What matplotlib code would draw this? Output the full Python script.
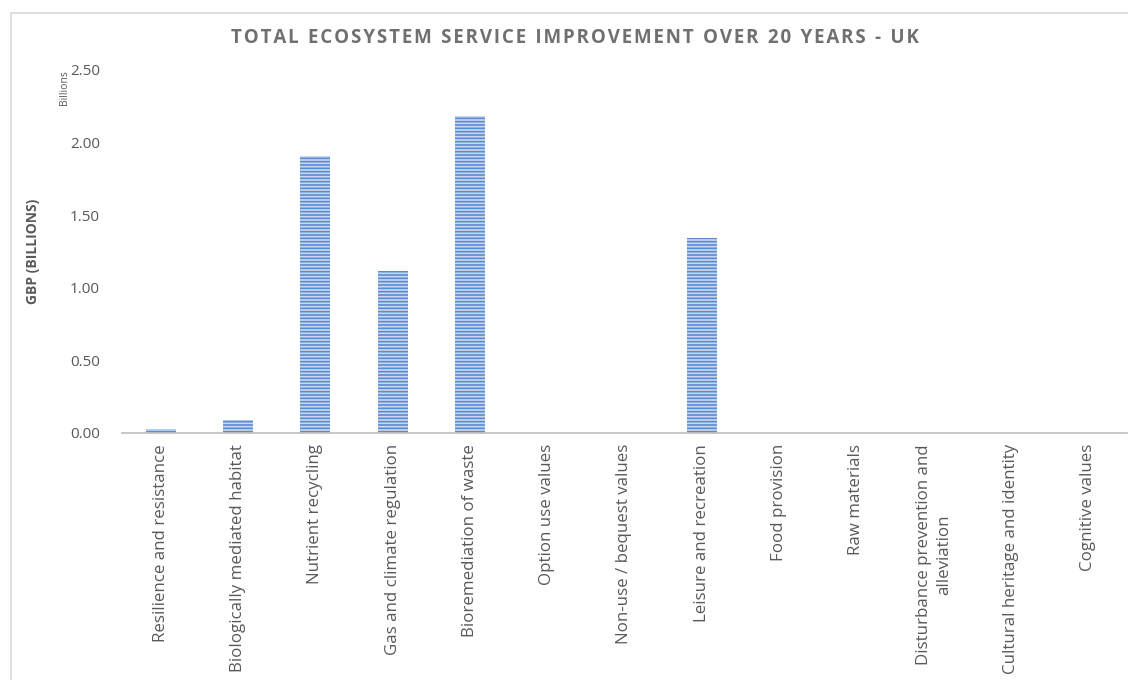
import matplotlib
matplotlib.use("Agg")
import matplotlib.pyplot as plt
from matplotlib.patches import Rectangle

plt.rcParams['font.family'] = ['Open Sans', 'DejaVu Sans']
plt.rcParams['hatch.linewidth'] = 1.2

categories = [
    "Resilience and resistance",
    "Biologically mediated habitat",
    "Nutrient recycling",
    "Gas and climate regulation",
    "Bioremediation of waste",
    "Option use values",
    "Non-use / bequest values",
    "Leisure and recreation",
    "Food provision",
    "Raw materials",
    "Disturbance prevention and\nalleviation",
    "Cultural heritage and identity",
    "Cognitive values",
]
values = [0.028, 0.09, 1.905, 1.115, 2.183, 0.0, 0.0, 1.345, 0.0, 0.0, 0.0, 0.0, 0.0]
yticks = [0.0, 0.5, 1.0, 1.5, 2.0, 2.5]
ytick_labels = ["0.00", "0.50", "1.00", "1.50", "2.00", "2.50"]
title = "TOTAL ECOSYSTEM SERVICE IMPROVEMENT OVER 20 YEARS - UK"

W, H = 1128, 680
fig = plt.figure(figsize=(W / 100, H / 100), dpi=100)

# chart-area border
fig.patches.append(Rectangle((11 / W, -0.01), 1.0, 1 - 13 / H + 0.01,
                             transform=fig.transFigure, fill=False,
                             edgecolor="#d9d9d9", linewidth=1.2))

ax = fig.add_axes([122 / W, 1 - 433 / H, (1127 - 122) / W, (433 - 70) / H])
x = list(range(len(categories)))
ax.bar(x, values, width=0.39, facecolor="#c9d8ef", edgecolor="#5b8bd1",
       hatch="-----", linewidth=0)
ax.set_xlim(-0.5, len(categories) - 0.5)
ax.set_ylim(0, 2.5)

ax.set_yticks(yticks)
ax.set_yticklabels(ytick_labels, fontsize=11, color="#595959")
ax.set_xticks(x)
ax.set_xticklabels(categories, rotation=90, fontsize=12.2, color="#595959",
                   va="top", ha="center", multialignment="center",
                   linespacing=1.35)
ax.tick_params(axis="both", length=0)
ax.tick_params(axis="y", pad=16)
ax.tick_params(axis="x", pad=8)

for s in ["top", "right", "left"]:
    ax.spines[s].set_visible(False)
ax.spines["bottom"].set_color("#bfbfbf")
ax.spines["bottom"].set_linewidth(1.2)

ax.set_ylabel("GBP (BILLIONS)", fontsize=10, fontweight="bold", color="#595959")
ax.yaxis.set_label_coords(-(122 - 40) / (1127 - 122), 0.5)

fig.text(65 / W, 1 - 88 / H, "Billions", rotation=90, fontsize=7.5,
         color="#595959", ha="center", va="center")

# letter-spaced title
spaced_title = "\u200a".join(title).replace("\u200a \u200a", "\u2002")
fig.text(575 / W, 1 - 38 / H, spaced_title,
         fontsize=13.5, fontweight="bold", color="#707070", ha="center", va="center")

fig.savefig("out.png", dpi=100)
